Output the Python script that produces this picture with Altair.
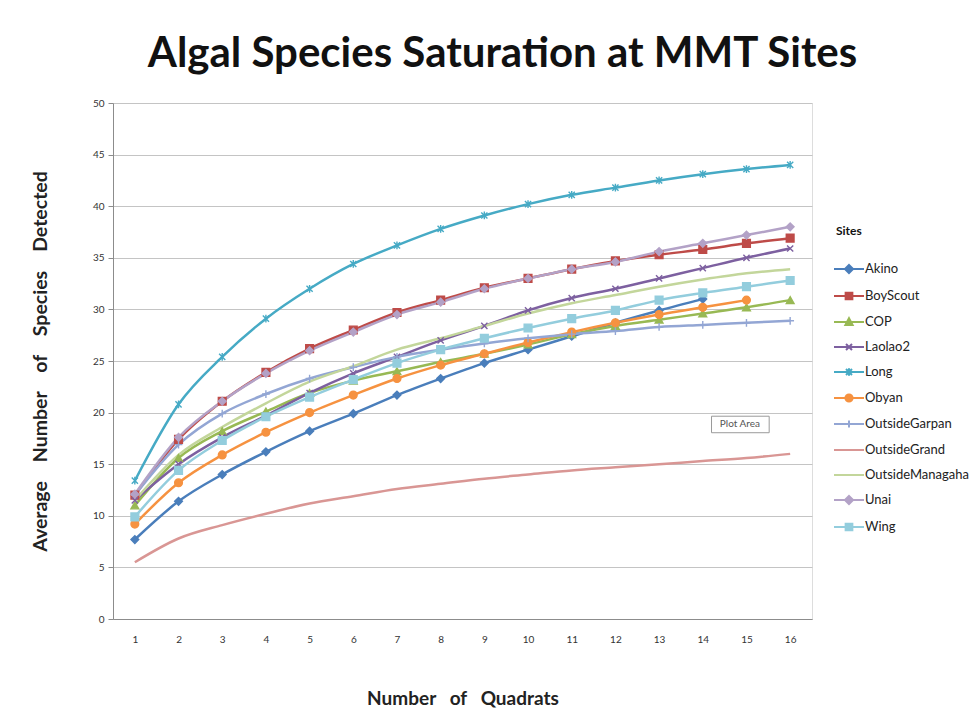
import altair as alt
import pandas as pd

# ---------------- data ----------------
quadrats = list(range(1, 17))
sites = ["Akino", "BoyScout", "COP", "Laolao2", "Long", "Obyan",
         "OutsideGarpan", "OutsideGrand", "OutsideManagaha", "Unai", "Wing"]

akino = [7.7, 11.4, 14.0, 16.2, 18.2, 19.9, 21.7, 23.3, 24.8, 26.1, 27.4, 28.7, 29.9, 31.0]
boyscout = [12.0, 17.4, 21.1, 23.9, 26.2, 28.0, 29.7, 30.9, 32.1, 33.0, 33.9, 34.7, 35.3, 35.8, 36.4, 36.9]
cop = [11.0, 15.6, 18.2, 20.1, 21.9, 23.1, 24.0, 24.9, 25.7, 26.6, 27.6, 28.4, 29.0, 29.6, 30.2, 30.9]
laolao2 = [11.5, 15.0, 17.6, 19.7, 21.9, 23.8, 25.4, 27.0, 28.4, 29.9, 31.1, 32.0, 33.0, 34.0, 35.0, 35.9]
long_ = [13.4, 20.8, 25.4, 29.1, 32.0, 34.4, 36.2, 37.8, 39.1, 40.2, 41.1, 41.8, 42.5, 43.1, 43.6, 44.0]
obyan = [9.2, 13.2, 15.9, 18.1, 20.0, 21.7, 23.3, 24.6, 25.7, 26.8, 27.8, 28.7, 29.5, 30.2, 30.9]
garpan = [12.0, 16.9, 19.9, 21.8, 23.3, 24.4, 25.4, 26.1, 26.7, 27.2, 27.6, 27.9, 28.3, 28.5, 28.7, 28.9]
grand = [5.5, 7.8, 9.1, 10.2, 11.2, 11.9, 12.6, 13.1, 13.6, 14.0, 14.4, 14.7, 15.0, 15.3, 15.6, 16.0]
managaha = [11.5, 15.9, 18.6, 20.9, 23.0, 24.5, 26.1, 27.2, 28.4, 29.6, 30.6, 31.4, 32.2, 32.9, 33.5, 33.9]
unai = [12.1, 17.6, 21.1, 23.8, 26.0, 27.8, 29.5, 30.7, 32.0, 33.0, 33.9, 34.6, 35.6, 36.4, 37.2, 38.0]
wing = [9.9, 14.4, 17.3, 19.6, 21.5, 23.2, 24.8, 26.1, 27.2, 28.2, 29.1, 29.9, 30.9, 31.6, 32.2, 32.8]

series = [akino, boyscout, cop, laolao2, long_, obyan, garpan, grand, managaha, unai, wing]

y_ticks = list(range(0, 51, 5))

# annotation (Excel "Plot Area" tooltip)
note_text = ["Plot Area"]
note_x = [14.85]
note_y = [18.85]
note_x0 = [14.2]
note_x1 = [15.52]
note_y0 = [18.05]
note_y1 = [19.65]

# ---------------- styles ----------------
colors = ["#4A7EBB", "#BE4B48", "#98B954", "#7D60A0", "#46AAC5", "#F69240",
          "#93A6D4", "#D99694", "#C3D69B", "#B3A2C7", "#93CDDD"]

X_PATH = "M-0.8,-0.8L0.8,0.8M-0.8,0.8L0.8,-0.8"
STAR_PATH = "M-0.8,-0.8L0.8,0.8M-0.8,0.8L0.8,-0.8M0,-1L0,1"
PLUS_PATH = "M-1,0L1,0M0,-1L0,1"
point_sites = ["Akino", "BoyScout", "COP", "Laolao2", "Long", "Obyan",
               "OutsideGarpan", "Unai", "Wing"]
point_shapes = ["diamond", "square", "triangle-up", X_PATH, STAR_PATH, "circle",
                PLUS_PATH, "diamond", "square"]

L = "M-1.25,0L1.25,0"
legend_paths = [
    L + "M0,-0.34L0.34,0L0,0.34L-0.34,0Z",
    L + "M-0.28,-0.28L0.28,-0.28L0.28,0.28L-0.28,0.28Z",
    L + "M0,-0.32L0.3,0.24L-0.3,0.24Z",
    L + "M-0.25,-0.25L0.25,0.25M-0.25,0.25L0.25,-0.25",
    L + "M-0.25,-0.25L0.25,0.25M-0.25,0.25L0.25,-0.25M0,-0.32L0,0.32",
    L + "M0.3,0A0.3,0.3,0,1,1,-0.3,0A0.3,0.3,0,1,1,0.3,0Z",
    L + "M0,-0.3L0,0.3",
    L,
    L,
    L + "M0,-0.34L0.34,0L0,0.34L-0.34,0Z",
    L + "M-0.28,-0.28L0.28,-0.28L0.28,0.28L-0.28,0.28Z",
]

FONT = "Lato"
y_title = ("\u00a0" * 4).join(["Average", "Number", "of", "Species", "Detected"])
x_title = ("\u00a0" * 3).join(["Number", "of", "Quadrats"])

rows = []
for s, vals in zip(sites, series):
    for q, v in zip(quadrats, vals):
        rows.append({"site": s, "quadrat": q, "value": v})
df = pd.DataFrame(rows)
note_df = pd.DataFrame({"text": note_text, "x": note_x, "y": note_y,
                        "x0": note_x0, "x1": note_x1, "y0": note_y0, "y1": note_y1})

x_scale = alt.Scale(domain=[0.5, 16.5], nice=False, zero=False)
y_scale = alt.Scale(domain=[0, 50], nice=False)

x_enc = alt.X("quadrat:Q", scale=x_scale,
              axis=alt.Axis(values=quadrats, grid=False, ticks=False,
                            domainColor="#8c8c8c", labelFontSize=10, labelFont=FONT,
                            labelColor="#333333", labelPadding=15,
                            title=x_title, titleFont=FONT,
                            titleFontSize=19, titleFontWeight="bold", titleColor="#222222",
                            titleY=79, titleBaseline="middle"))
y_enc = alt.Y("value:Q", scale=y_scale,
              axis=alt.Axis(values=y_ticks, grid=True, gridColor="#c4c4c4",
                            domainColor="#8c8c8c", tickColor="#8c8c8c", tickSize=5,
                            labelFontSize=10, labelFont=FONT, labelColor="#333333",
                            labelPadding=4,
                            title=y_title,
                            titleFont=FONT, titleFontSize=19.5, titleFontWeight="bold",
                            titleColor="#222222", titleX=-73, titleY=258,
                            titleAlign="center", titleBaseline="middle", titleAngle=270))

lines = alt.Chart(df).mark_line(strokeWidth=2.5, interpolate="monotone").encode(
    x=x_enc, y=y_enc,
    stroke=alt.Stroke("site:N", scale=alt.Scale(domain=sites, range=colors), legend=None),
    order=alt.Order("quadrat:Q"),
)

points = alt.Chart(df).transform_filter(
    alt.FieldOneOfPredicate(field="site", oneOf=point_sites)
).mark_point(filled=True, size=60, strokeWidth=1.4, opacity=1).encode(
    x="quadrat:Q", y="value:Q",
    shape=alt.Shape("site:N", scale=alt.Scale(domain=point_sites, range=point_shapes), legend=None),
    fill=alt.Fill("site:N", scale=alt.Scale(domain=sites, range=colors), legend=None),
    stroke=alt.Stroke("site:N", scale=alt.Scale(domain=sites, range=colors), legend=None),
)

legend_layer = alt.Chart(df).mark_point(filled=True, opacity=0).encode(
    x="quadrat:Q", y="value:Q",
    shape=alt.Shape("site:N", scale=alt.Scale(domain=sites, range=legend_paths),
                    legend=alt.Legend(
                        title="Sites", titleFont=FONT, titleFontSize=12, titleFontWeight="bold",
                        titleColor="#111111", titlePadding=18,
                        labelFont=FONT, labelFontSize=13, labelColor="#222222",
                        labelOffset=3, symbolSize=576, symbolStrokeWidth=2,
                        symbolOpacity=1, rowPadding=5,
                        orient="none", legendX=723, legendY=123)),
    fill=alt.Fill("site:N", scale=alt.Scale(domain=sites, range=colors),
                  legend=alt.Legend(title="Sites")),
    stroke=alt.Stroke("site:N", scale=alt.Scale(domain=sites, range=colors),
                      legend=alt.Legend(title="Sites")),
)

note_box = alt.Chart(note_df).mark_rect(fill="white", stroke="#9a9a9a", strokeWidth=1).encode(
    x="x0:Q", x2="x1:Q", y="y0:Q", y2="y1:Q")
note_txt = alt.Chart(note_df).mark_text(font=FONT, fontSize=10, color="#555555").encode(
    x="x:Q", y="y:Q", text="text:N")

chart = alt.layer(lines, points, legend_layer, note_box, note_txt).resolve_scale(
    shape="independent", fill="independent", stroke="independent"
).properties(
    width=699, height=516,
    title=alt.TitleParams("Algal Species Saturation at MMT Sites", font=FONT, fontSize=42,
                          fontWeight="bold", color="#111111", anchor="middle", dx=40,
                          offset=-11, baseline="alphabetic"),
    autosize=alt.AutoSizeParams(type="none"),
    padding={"left": 113, "top": 103, "right": 166, "bottom": 98},
).configure_view(stroke=None).configure(background="white")

chart.save("out.html", embed_options={"renderer": "svg", "actions": False})
